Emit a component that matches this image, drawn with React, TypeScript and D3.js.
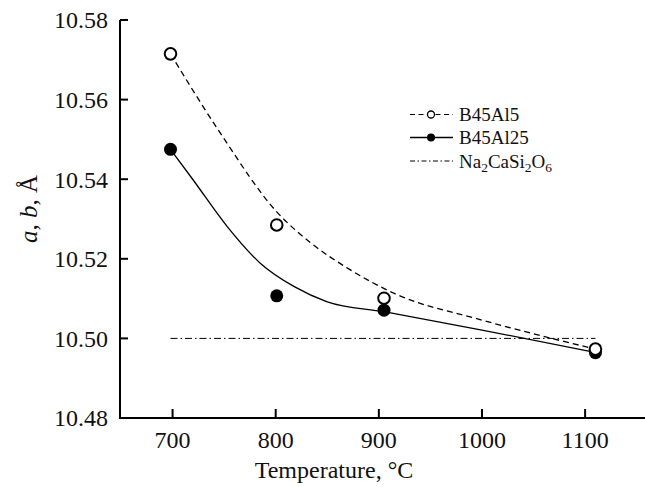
import React from "react";
import * as d3 from "d3";

// Lattice parameter measurements (temperature °C, a = b in Å)
const tempsAl5 = [698, 801, 905, 1110];
const valuesAl5 = [10.5715, 10.5285, 10.5101, 10.4973];
const tempsAl25 = [698, 801, 905, 1110];
const valuesAl25 = [10.5475, 10.5107, 10.5071, 10.4964];

// Smoothed trend lines through each series
const trendTempsAl5 = [698, 747, 801, 834, 870, 915, 1000, 1107];
const trendValuesAl5 = [10.5715, 10.5513, 10.5318, 10.524, 10.5176, 10.5113, 10.5046, 10.4975];
const trendTempsAl25 = [698, 720, 753, 785, 818, 850, 905, 1000, 1111];
const trendValuesAl25 = [10.5475, 10.5398, 10.5281, 10.5189, 10.513, 10.5092, 10.5067, 10.5021, 10.4964];

// Reference value for Na2CaSi2O6
const refTemps = [698, 1110];
const refValue = 10.5;

const xTicks = [700, 800, 900, 1000, 1100];
const yTicks = [10.48, 10.5, 10.52, 10.54, 10.56, 10.58];

const W = 645;
const H = 487;
const FONT = "'Liberation Serif', 'Times New Roman', serif";

export default function App() {
  const x = d3.scaleLinear().domain([650, 1160]).range([121, 647]);
  const y = d3.scaleLinear().domain([10.48, 10.58]).range([418, 20]);
  const axisX = 120;
  const axisY = 418;

  const line = d3
    .line<[number, number]>()
    .x((d) => x(d[0]))
    .y((d) => y(d[1]))
    .curve(d3.curveMonotoneX);

  const trendAl5 = trendTempsAl5.map((t, i) => [t, trendValuesAl5[i]] as [number, number]);
  const trendAl25 = trendTempsAl25.map((t, i) => [t, trendValuesAl25[i]] as [number, number]);

  const legendX0 = 410;
  const legendX1 = 453;
  const legendMid = 431;
  const legendText = 459;
  const legendRows = [114.5, 137.5, 161];

  return (
    <svg
      width={W}
      height={H}
      style={{ position: "absolute", left: 0, top: 0, background: "#fff" }}
      fontFamily={FONT}
    >
      {/* axes */}
      <line x1={axisX} y1={y(10.58)} x2={axisX} y2={axisY + 1} stroke="#000" strokeWidth={2} />
      <line x1={axisX - 1} y1={axisY} x2={W} y2={axisY} stroke="#000" strokeWidth={2} />
      {yTicks.map((t) => (
        <g key={"y" + t}>
          <line x1={axisX} x2={axisX + 8} y1={y(t)} y2={y(t)} stroke="#000" strokeWidth={2} />
          <text x={108} y={y(t)} dy="0.35em" textAnchor="end" fontSize={24} fill="#111">
            {t.toFixed(2)}
          </text>
        </g>
      ))}
      {xTicks.map((t) => (
        <g key={"x" + t}>
          <line x1={x(t)} x2={x(t)} y1={axisY} y2={axisY - 9} stroke="#000" strokeWidth={2} />
          <text x={x(t)} y={448} textAnchor="middle" fontSize={24} fill="#111">
            {t}
          </text>
        </g>
      ))}
      <text x={334} y={478} textAnchor="middle" fontSize={24} fill="#111">
        Temperature, °C
      </text>
      <text
        transform={`translate(37, 209) rotate(-90)`}
        textAnchor="middle"
        fontSize={25}
        fill="#111"
      >
        <tspan fontStyle="italic">a</tspan>, <tspan fontStyle="italic">b</tspan>, Å
      </text>

      {/* reference line */}
      <line
        x1={x(refTemps[0])}
        x2={x(refTemps[1])}
        y1={y(refValue)}
        y2={y(refValue)}
        stroke="#000"
        strokeWidth={1}
        strokeDasharray="7,3,1.5,3"
      />

      {/* trend curves */}
      <path d={line(trendAl5) || ""} fill="none" stroke="#000" strokeWidth={1.3} strokeDasharray="6,4" />
      <path d={line(trendAl25) || ""} fill="none" stroke="#000" strokeWidth={1.3} />

      {/* markers */}
      {tempsAl25.map((t, i) => (
        <circle key={"f" + i} cx={x(t)} cy={y(valuesAl25[i])} r={6.5} fill="#000" />
      ))}
      {tempsAl5.map((t, i) => (
        <circle
          key={"o" + i}
          cx={x(t)}
          cy={y(valuesAl5[i])}
          r={5.8}
          fill="#fff"
          stroke="#000"
          strokeWidth={2}
        />
      ))}

      {/* legend */}
      <line x1={legendX0} x2={legendX1} y1={legendRows[0]} y2={legendRows[0]} stroke="#000" strokeWidth={1.2} strokeDasharray="5,3.5" />
      <circle cx={legendMid} cy={legendRows[0]} r={3.5} fill="#fff" stroke="#000" strokeWidth={1.3} />
      <text x={legendText} y={legendRows[0]} dy="0.35em" fontSize={19} fill="#111">B45Al5</text>

      <line x1={legendX0} x2={legendX1} y1={legendRows[1]} y2={legendRows[1]} stroke="#000" strokeWidth={1.3} />
      <circle cx={legendMid} cy={legendRows[1]} r={4} fill="#000" />
      <text x={legendText} y={legendRows[1]} dy="0.35em" fontSize={19} fill="#111">B45Al25</text>

      <line x1={legendX0} x2={legendX1} y1={legendRows[2]} y2={legendRows[2]} stroke="#000" strokeWidth={1} strokeDasharray="5,2.5,1.5,2.5" />
      <text x={legendText} y={legendRows[2]} dy="0.35em" fontSize={19} fill="#111">
        Na<tspan fontSize={13.5} dy="4">2</tspan>
        <tspan dy="-4">CaSi</tspan>
        <tspan fontSize={13.5} dy="4">2</tspan>
        <tspan dy="-4">O</tspan>
        <tspan fontSize={13.5} dy="4">6</tspan>
      </text>
    </svg>
  );
}
